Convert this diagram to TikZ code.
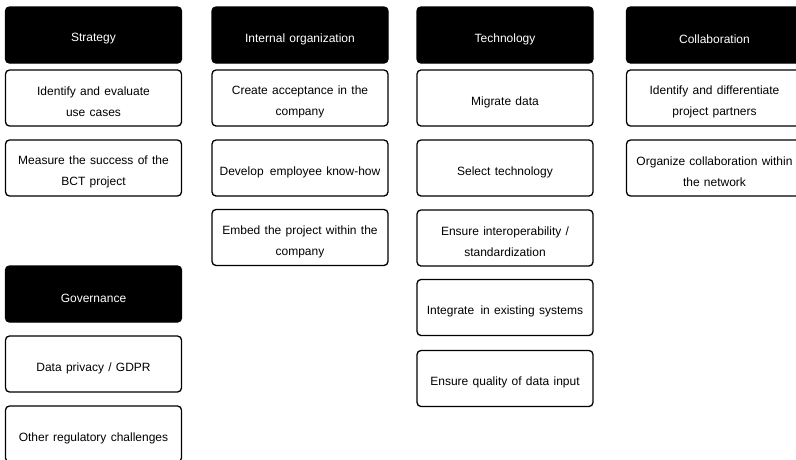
\documentclass[tikz,border=0pt]{standalone}
\usepackage{fontspec}
\setmainfont{Liberation Sans}
\newcommand\myboxfont{\fontsize{12}{21}\selectfont}
\begin{document}
\begin{tikzpicture}[x=1pt,y=1pt,
  cell/.style={draw=black,line width=1.3pt,rounded corners=4pt,minimum width=176pt,minimum height=56pt,
    inner sep=0pt},
  txt/.style={align=center,inner sep=0pt,yshift=-4pt,font=\myboxfont,
    execute at begin node={\spaceskip=4.3pt plus 1pt minus 1pt\relax}},
  head/.style={cell,fill=black},
  item/.style={cell,fill=white},
  htxt/.style={txt,text=white},
  itxt/.style={txt,text=black}]
\useasboundingbox (0,0) rectangle (796,-459);
\clip (0,0) rectangle (796,-459);
\def\ca{93.5}\def\cb{300}\def\cc{505}\def\cd{714.5}
% Strategy
\node[head] (h1) at (\ca,-35) {};
\node[htxt] at (h1) {Strategy};
\node[item] (s1) at (\ca,-98) {};
\node[itxt] at (s1) {Identify and evaluate\\use cases};
\node[item] (s2) at (\ca,-168) {};
\node[itxt] at (s2) {Measure the success of the\\BCT project};
% Internal organization
\node[head] (h2) at (\cb,-35) {};
\node[htxt] at (h2) {Internal organization};
\node[item] (i1) at (\cb,-98) {};
\node[itxt] at (i1) {Create acceptance in the\\company};
\node[item] (i2) at (\cb,-168) {};
\node[itxt] at (i2) {Develop\hspace{2pt} employee know-how};
\node[item] (i3) at (\cb,-237.5) {};
\node[itxt] at (i3) {Embed the project within the\\company};
% Technology
\node[head] (h3) at (\cc,-35) {};
\node[htxt] at (h3) {Technology};
\node[item] (t1) at (\cc,-98) {};
\node[itxt] at (t1) {Migrate data};
\node[item] (t2) at (\cc,-168) {};
\node[itxt] at (t2) {Select technology};
\node[item] (t3) at (\cc,-238) {};
\node[itxt] at (t3) {Ensure interoperability /\\standardization};
\node[item] (t4) at (\cc,-307.5) {};
\node[itxt] at (t4) {Integrate\hspace{2pt} in existing systems};
\node[item] (t5) at (\cc,-378.5) {};
\node[itxt] at (t5) {Ensure quality of data input};
% Collaboration
\node[head] (h4) at (\cd,-35) {};
\node[htxt] at (h4) {Collaboration};
\node[item] (c1) at (\cd,-98) {};
\node[itxt] at (c1) {Identify and differentiate\\project partners};
\node[item] (c2) at (\cd,-168) {};
\node[itxt] at (c2) {Organize collaboration within\\the network};
% Governance
\node[head] (h5) at (\ca,-294) {};
\node[htxt] at (h5) {Governance};
\node[item] (g1) at (\ca,-364) {};
\node[itxt] at (g1) {Data privacy / GDPR};
\node[item] (g2) at (\ca,-434) {};
\node[itxt] at (g2) {Other regulatory challenges};
\end{tikzpicture}
\end{document}
